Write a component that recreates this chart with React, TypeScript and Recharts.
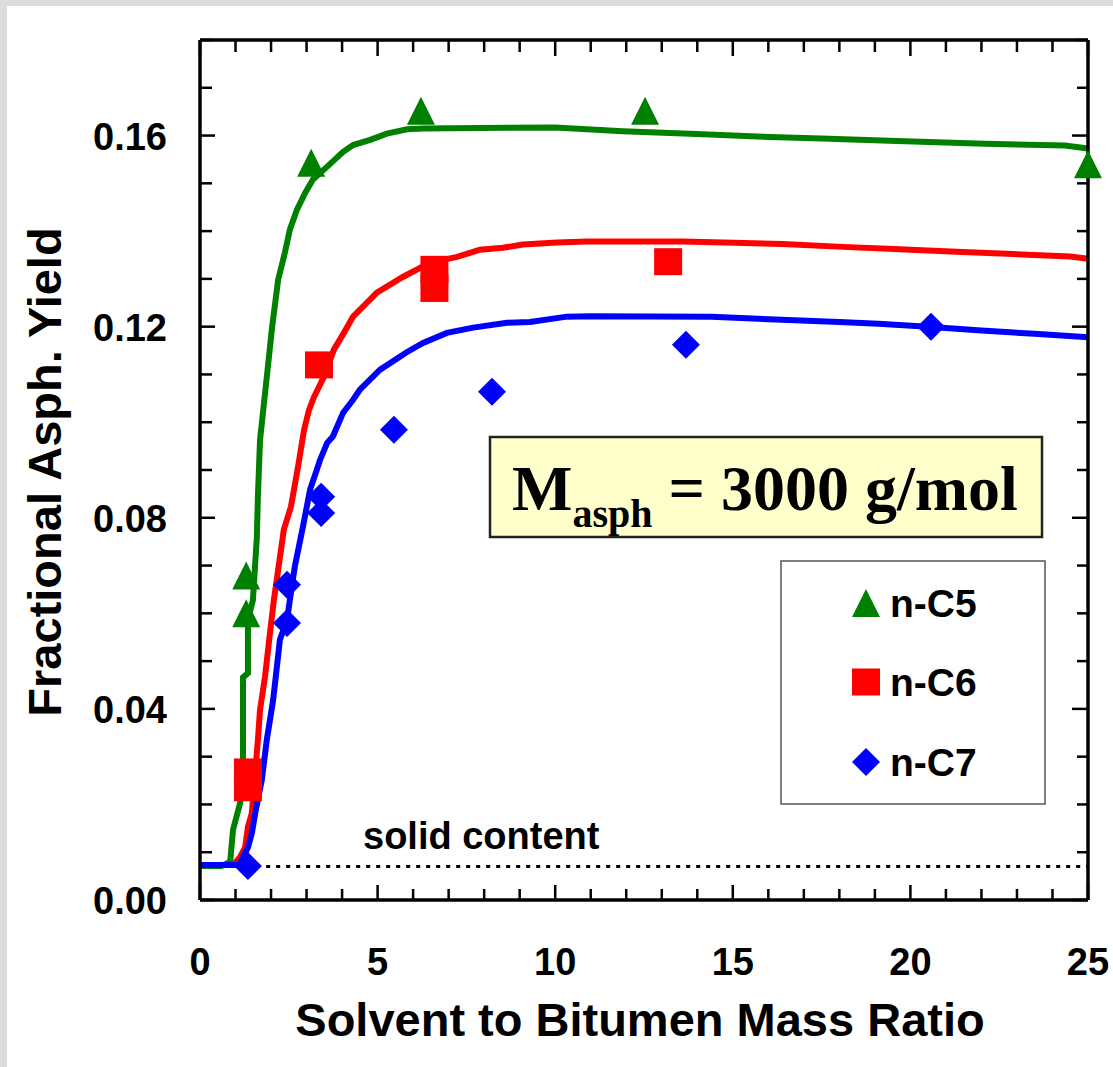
import { ComposedChart, Line, Scatter, XAxis, YAxis, ReferenceLine } from "recharts";

// axis ticks
const xTicks = [0, 1, 2, 3, 4, 5, 6, 7, 8, 9, 10, 11, 12, 13, 14, 15, 16, 17, 18, 19, 20, 21, 22, 23, 24, 25];
const yTicks = [0, 0.01, 0.02, 0.03, 0.04, 0.05, 0.06, 0.07, 0.08, 0.09, 0.1, 0.11, 0.12, 0.13, 0.14, 0.15, 0.16, 0.17, 0.18];
const xDomain = [0, 25];
const yDomain = [0, 0.18];

const seriesNames = ["n-C5", "n-C6", "n-C7"];
const seriesColors = ["#008000", "#ff0000", "#0000ff"];

// measured yields
const c5X = [1.3, 1.3, 3.13, 6.22, 12.53, 25.0];
const c5Y = [0.0679, 0.06, 0.1543, 0.1652, 0.1652, 0.154];
const c6X = [1.35, 1.35, 3.35, 6.6, 6.6, 13.18];
const c6Y = [0.0268, 0.0235, 0.112, 0.132, 0.128, 0.1336];
const c7X = [1.35, 2.45, 2.45, 3.41, 3.41, 5.46, 8.22, 13.68, 20.58];
const c7Y = [0.0071, 0.066, 0.058, 0.0844, 0.081, 0.0984, 0.1064, 0.1162, 0.12];

// model curves
const c5FitX = [0, 0.6, 0.85, 0.93, 1.13, 1.21, 1.21, 1.35, 1.35, 1.49, 1.6, 1.63, 1.69, 1.91, 2.03, 2.2, 2.39, 2.53, 2.73, 2.96, 3.18, 3.58, 4.03, 4.31, 4.79, 5.26, 5.83, 6.28, 10, 11.9, 13.8, 15.7, 17.5, 19.85, 22.1, 24.35, 25];
const c5FitY = [0.0071, 0.0071, 0.008, 0.0147, 0.0203, 0.0293, 0.0466, 0.0475, 0.0586, 0.0628, 0.0759, 0.0844, 0.0963, 0.1115, 0.1199, 0.1298, 0.1355, 0.1403, 0.1445, 0.148, 0.1508, 0.1535, 0.1566, 0.158, 0.1591, 0.1604, 0.1613, 0.1615, 0.1617, 0.1609, 0.1604, 0.1598, 0.1594, 0.1588, 0.1583, 0.1579, 0.1573];
const c6FitX = [0, 0.93, 1.13, 1.27, 1.35, 1.46, 1.49, 1.63, 1.69, 1.83, 1.97, 2.08, 2.36, 2.56, 2.76, 2.93, 3.07, 3.21, 3.49, 3.77, 4.05, 4.31, 4.98, 5.71, 6.48, 7.24, 7.88, 8.53, 9.09, 10.05, 10.9, 13.6, 16.4, 18.1, 19.7, 21.3, 22.9, 24.5, 25];
const c6FitY = [0.0073, 0.0073, 0.009, 0.011, 0.0153, 0.0182, 0.021, 0.0335, 0.0398, 0.0467, 0.0559, 0.0628, 0.0775, 0.0823, 0.0907, 0.0984, 0.1026, 0.1053, 0.1095, 0.1152, 0.1187, 0.1221, 0.1271, 0.1304, 0.1334, 0.1346, 0.1361, 0.1365, 0.1372, 0.1376, 0.1378, 0.1378, 0.1373, 0.1367, 0.1362, 0.1357, 0.1352, 0.1347, 0.1342];
const c7FitX = [0, 1.1, 1.35, 1.46, 1.55, 1.63, 1.74, 1.88, 2.06, 2.25, 2.45, 2.53, 2.6, 2.67, 2.9, 3.1, 3.38, 3.58, 3.74, 4.03, 4.31, 4.5, 5.07, 5.83, 6.28, 6.95, 7.69, 8.64, 9.29, 10.33, 11, 14.4, 16.2, 18, 19.1, 20.5, 22, 23.5, 25];
const c7FitY = [0.0073, 0.0073, 0.011, 0.014, 0.018, 0.021, 0.0251, 0.0335, 0.0419, 0.0545, 0.0586, 0.0628, 0.0664, 0.0698, 0.0782, 0.0859, 0.0921, 0.0957, 0.097, 0.102, 0.1047, 0.1068, 0.111, 0.1147, 0.1166, 0.1187, 0.1198, 0.1208, 0.121, 0.1221, 0.1222, 0.1221, 0.1215, 0.121, 0.1206, 0.12, 0.1192, 0.1185, 0.1178];

const solidContent = 0.007;
const solidStart = 1.3;

const toPoints = (xs: number[], ys: number[]) => xs.map((x, i) => ({ x, y: ys[i] }));

const FONT = '"Liberation Sans", Arial, sans-serif';

const isMajorX = (v: number) => v % 5 === 0;
const isMajorY = (v: number) => Math.round(v * 100) % 4 === 0;

const BottomTick = ({ x, y, payload }: any) => {
  const major = isMajorX(payload.value);
  return (
    <g>
      <line x1={x} x2={x} y1={y} y2={y - (major ? 15 : 11)} stroke="#000" strokeWidth={2.5} />
      {major && (
        <text x={x} y={y + 75} textAnchor="middle" fontFamily={FONT} fontWeight="bold" fontSize={38} fill="#000">
          {payload.value}
        </text>
      )}
    </g>
  );
};

const TopTick = ({ x, y, payload }: any) => {
  const major = isMajorX(payload.value);
  return <line x1={x} x2={x} y1={y} y2={y + (major ? 16 : 12)} stroke="#000" strokeWidth={2.5} />;
};

const LeftTick = ({ x, y, payload }: any) => {
  const major = isMajorY(payload.value);
  return (
    <g>
      <line x1={x} x2={x + (major ? 15 : 12)} y1={y} y2={y} stroke="#000" strokeWidth={2.5} />
      {major && (
        <text x={x - 33} y={y + 14} textAnchor="end" fontFamily={FONT} fontWeight="bold" fontSize={38} fill="#000">
          {payload.value.toFixed(2)}
        </text>
      )}
    </g>
  );
};

const RightTick = ({ x, y, payload }: any) => {
  const major = isMajorY(payload.value);
  return <line x1={x} x2={x - (major ? 16 : 11)} y1={y} y2={y} stroke="#000" strokeWidth={2.5} />;
};

const Triangle = ({ cx, cy, fill }: any) => (
  <polygon points={`${cx},${cy - 14} ${cx - 14},${cy + 14} ${cx + 14},${cy + 14}`} fill={fill} />
);
const Square = ({ cx, cy, fill }: any) => <rect x={cx - 14} y={cy - 13.5} width={28} height={27} fill={fill} />;
const Diamond = ({ cx, cy, fill }: any) => (
  <polygon points={`${cx},${cy - 14} ${cx + 14},${cy} ${cx},${cy + 14} ${cx - 14},${cy}`} fill={fill} />
);
const shapes = [Triangle, Square, Diamond];

export default function App() {
  const measured = [toPoints(c5X, c5Y), toPoints(c6X, c6Y), toPoints(c7X, c7Y)];
  const fits = [toPoints(c5FitX, c5FitY), toPoints(c6FitX, c6FitY), toPoints(c7FitX, c7FitY)];
  // invisible series so the top and right frame axes get drawn
  const frame = [
    { x: xDomain[0], y: yDomain[0] },
    { x: xDomain[1], y: yDomain[1] },
  ];
  const legendY = [603, 682, 762];

  return (
    <div style={{ position: "absolute", left: 0, top: 0, width: 1113, height: 1067, background: "#dcdcdc" }}>
      <div style={{ position: "absolute", left: 7, top: 6, right: 0, bottom: 0, background: "#fff" }} />
      <div style={{ position: "absolute", left: 0, top: 0 }}>
        <ComposedChart width={1113} height={1067} margin={{ top: 39, right: 24, bottom: 0, left: 0 }}>
          <XAxis
            dataKey="x"
            type="number"
            domain={xDomain}
            ticks={xTicks}
            interval={0}
            height={167}
            tickSize={0}
            tickMargin={0}
            tick={<BottomTick />}
            axisLine={{ stroke: "#000", strokeWidth: 3.5 }}
          />
          <XAxis
            xAxisId="top"
            orientation="top"
            dataKey="x"
            type="number"
            domain={xDomain}
            allowDataOverflow
            ticks={xTicks}
            interval={0}
            height={1}
            tickSize={0}
            tickMargin={0}
            tick={<TopTick />}
            axisLine={{ stroke: "#000", strokeWidth: 3.5 }}
          />
          <YAxis
            type="number"
            domain={yDomain}
            ticks={yTicks}
            interval={0}
            width={200}
            tickSize={0}
            tickMargin={0}
            tick={<LeftTick />}
            axisLine={{ stroke: "#000", strokeWidth: 3.5 }}
          />
          <YAxis
            yAxisId="right"
            orientation="right"
            type="number"
            domain={yDomain}
            allowDataOverflow
            ticks={yTicks}
            interval={0}
            width={1}
            tickSize={0}
            tickMargin={0}
            tick={<RightTick />}
            axisLine={{ stroke: "#000", strokeWidth: 3.5 }}
          />
          <Line
            xAxisId="top"
            yAxisId="right"
            data={frame}
            dataKey="y"
            stroke="none"
            dot={false}
            legendType="none"
            isAnimationActive={false}
          />
          <ReferenceLine
            segment={[
              { x: solidStart, y: solidContent },
              { x: 25, y: solidContent },
            ]}
            stroke="#000"
            strokeWidth={3}
            strokeDasharray="4 6"
          />
          {fits.map((d, i) => (
            <Line
              key={`fit-${i}`}
              data={d}
              dataKey="y"
              type="linear"
              stroke={seriesColors[i]}
              strokeWidth={6}
              dot={false}
              isAnimationActive={false}
            />
          ))}
          {measured.map((d, i) => {
            const Shape = shapes[i];
            return (
              <Scatter
                key={`pts-${i}`}
                name={seriesNames[i]}
                data={d}
                dataKey="y"
                fill={seriesColors[i]}
                shape={(p: any) => <Shape cx={p.cx} cy={p.cy} fill={seriesColors[i]} />}
                isAnimationActive={false}
              />
            );
          })}
        </ComposedChart>
      </div>
      <svg width={1113} height={1067} style={{ position: "absolute", left: 0, top: 0, pointerEvents: "none" }}>
        <text x={640} y={1036} textAnchor="middle" fontFamily={FONT} fontWeight="bold" fontSize={47} fill="#000">
          Solvent to Bitumen Mass Ratio
        </text>
        <text
          transform="translate(61,472) rotate(-90)"
          textAnchor="middle"
          fontFamily={FONT}
          fontWeight="bold"
          fontSize={47}
          fill="#000"
        >
          Fractional Asph. Yield
        </text>
        <text x={363} y={849} fontFamily={FONT} fontWeight="bold" fontSize={38} fill="#000">
          solid content
        </text>
        <rect x={490} y={437} width={552} height={100} fill="#ffffcc" stroke="#222" strokeWidth={2.5} />
        <text
          x={512}
          y={510}
          fontFamily='"Liberation Serif", "Times New Roman", serif'
          fontWeight="bold"
          fontSize={64}
          fill="#000"
          style={{ whiteSpace: "pre" }}
        >
          M
          <tspan fontSize={40} dy={17}>asph</tspan>
          <tspan dy={-17}> = 3000 g/mol</tspan>
        </text>
        <rect x={781} y={561} width={264} height={243} fill="#fff" stroke="#555" strokeWidth={1.5} />
        {seriesNames.map((name, i) => {
          const Shape = shapes[i];
          return (
            <g key={name}>
              <Shape cx={866} cy={legendY[i]} fill={seriesColors[i]} />
              <text x={890} y={legendY[i] + 14} fontFamily={FONT} fontWeight="bold" fontSize={39} fill="#000">
                {name}
              </text>
            </g>
          );
        })}
      </svg>
    </div>
  );
}
